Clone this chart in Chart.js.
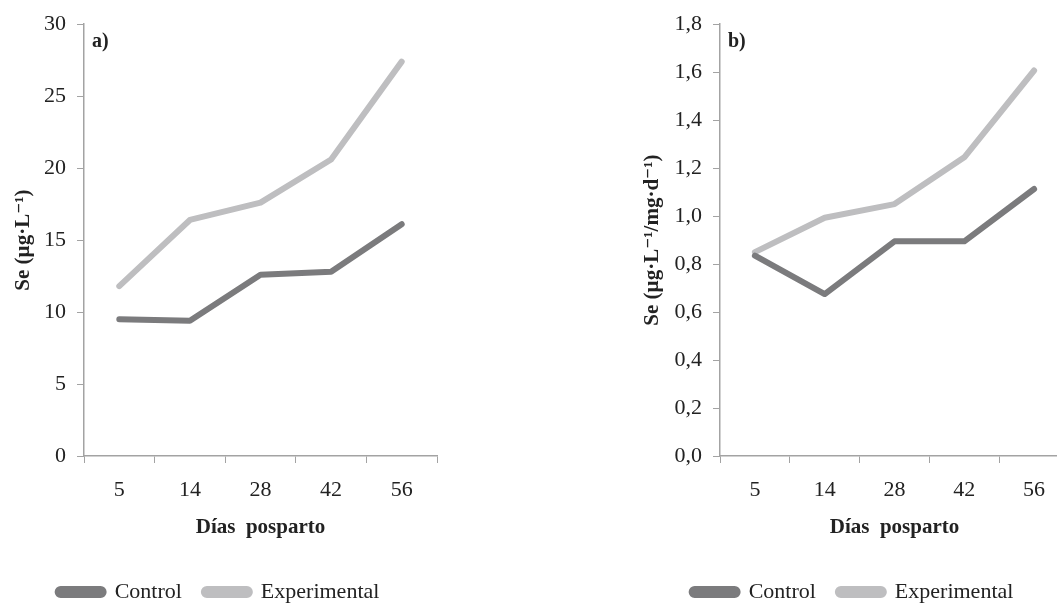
<!DOCTYPE html>
<html>
<head>
<meta charset="utf-8">
<script src="https://cdn.jsdelivr.net/npm/chart.js@4/dist/chart.umd.min.js"></script>
<style>
  html, body { margin: 0; padding: 0; background: #fff; overflow: hidden; width: 1057px; height: 606px; }
  #wrapA { position: absolute; left: 0; top: 0; }
  #wrapB { position: absolute; left: 636px; top: 0; }
</style>
</head>
<body>
<div id="wrapA"><canvas id="chartA" width="450" height="606"></canvas></div>
<div id="wrapB"><canvas id="chartB" width="436" height="606"></canvas></div>
<script>
const days = ['5', '14', '28', '42', '56'];

// a) Se concentration (µg/L)
const controlA = [9.5, 9.4, 12.6, 12.8, 16.1];
const experimentalA = [11.8, 16.4, 17.6, 20.6, 27.4];

// b) Se per mg of intake (µg/L per mg/d)
const controlB = [0.835, 0.675, 0.895, 0.895, 1.113];
const experimentalB = [0.85, 0.993, 1.05, 1.245, 1.607];

const darkGray = '#7b7b7d';
const lightGray = '#bebec0';
const axisGray = '#a3a3a3';
const textColor = '#222';
const serif = "'Liberation Serif', 'DejaVu Serif', serif";

// draws the "a)" / "b)" tag in the top-left corner of the plot
const panelLabel = {
  id: 'panelLabel',
  afterDraw(chart, args, opts) {
    const c = chart.ctx;
    c.save();
    c.font = 'bold 20px ' + serif;
    c.fillStyle = textColor;
    c.textBaseline = 'alphabetic';
    c.fillText(opts.text, chart.chartArea.left + 8, chart.chartArea.top + 23);
    c.restore();
  }
};

function makeChart(id, label, control, experimental, yOpts, tag, padRight, titlePad) {
  return new Chart(document.getElementById(id), {
    type: 'line',
    data: {
      labels: days,
      datasets: [
        {
          label: 'Control',
          data: control,
          borderColor: darkGray,
          backgroundColor: darkGray,
          borderWidth: 6,
          pointRadius: 0,
          borderJoinStyle: 'round',
          borderCapStyle: 'round'
        },
        {
          label: 'Experimental',
          data: experimental,
          borderColor: lightGray,
          backgroundColor: lightGray,
          borderWidth: 6,
          pointRadius: 0,
          borderJoinStyle: 'round',
          borderCapStyle: 'round'
        }
      ]
    },
    options: {
      responsive: false,
      animation: false,
      layout: { padding: { top: 12, right: padRight, bottom: -7, left: 0 } },
      scales: {
        x: {
          offset: true,
          grid: { offset: true, drawOnChartArea: false, drawTicks: true, tickLength: 7, color: axisGray },
          border: { color: axisGray, width: 1.5 },
          ticks: { color: textColor, font: { family: serif, size: 22 }, padding: 14, maxRotation: 0 },
          title: { display: true, text: 'Días  posparto', color: textColor, font: { family: serif, size: 21, weight: 'bold' }, padding: { top: 0, bottom: 19 } },
          afterFit(scale) { scale.height = 103; }
        },
        y: Object.assign({
          grid: { drawOnChartArea: false, drawTicks: true, tickLength: 7, color: axisGray },
          border: { color: axisGray, width: 1.5 },
          title: { display: true, text: label, color: textColor, font: { family: serif, size: 21, weight: 'bold' }, padding: { top: titlePad, bottom: 0 } },
          afterFit(scale) { scale.width = 84; }
        }, yOpts)
      },
      plugins: {
        legend: {
          position: 'bottom',
          labels: {
            color: textColor,
            font: { family: serif, size: 22 },
            boxWidth: 46,
            boxHeight: 6,
            useBorderRadius: true,
            borderRadius: 3,
            padding: 22
          }
        },
        tooltip: { enabled: false },
        panelLabel: { text: tag }
      }
    },
    plugins: [panelLabel]
  });
}

makeChart('chartA', 'Se (µg·L⁻¹)', controlA, experimentalA, {
  min: 0, max: 30,
  ticks: { stepSize: 5, color: textColor, font: { family: serif, size: 22 }, padding: 11 }
}, 'a)', 13, 11);

makeChart('chartB', 'Se (µg·L⁻¹/mg·d⁻¹)', controlB, experimentalB, {
  min: 0, max: 1.8,
  ticks: {
    stepSize: 0.2, color: textColor, font: { family: serif, size: 22 }, padding: 11,
    callback: v => v.toFixed(1).replace('.', ',')
  }
}, 'b)', 3, 4);
</script>
</body>
</html>
